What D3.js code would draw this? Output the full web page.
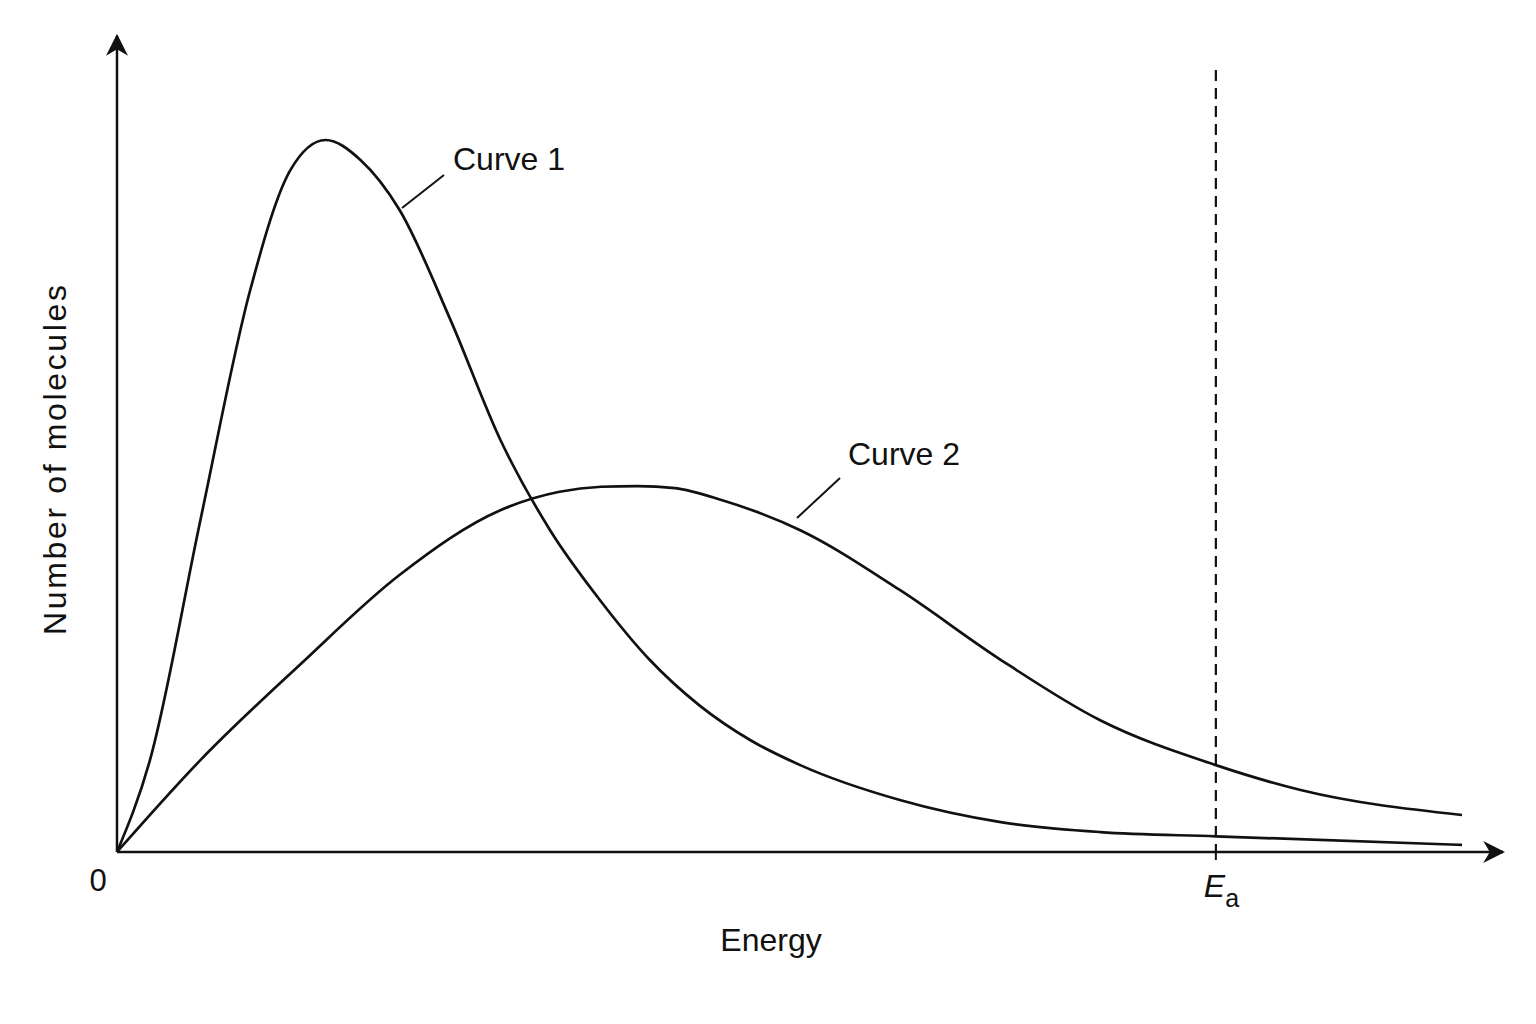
<!DOCTYPE html>
<html><head><meta charset="utf-8">
<script src="https://cdn.jsdelivr.net/npm/d3@7"></script>
<style>body{margin:0;background:#fff}text{font-family:"Liberation Sans",Arial,sans-serif;fill:#111}</style>
</head><body><svg id="chart" width="1536" height="1024"></svg>
<script>
// energy (0-100) vs number of molecules (0-100, curve 1 peak = 100)
let curve1X = [0, 2.45, 6.2, 9.9, 12.9, 15.5, 18.1, 21, 24.8, 28.5, 32.2, 35.9, 39.6, 43.3, 47.1, 50.8, 58.2, 65.7, 73.1, 81.7, 100];
let curve1Y = [0, 12.9, 46.6, 78.9, 95.8, 100, 97.2, 90.2, 74.7, 57.9, 45.2, 35.4, 27, 20.6, 15.7, 12.2, 7.3, 4.2, 2.8, 2.2, 1];
let curve2X = [0, 6.2, 13.6, 21, 28.5, 32.9, 36, 38.7, 41.5, 45, 50.8, 58.2, 65.7, 73.1, 81.7, 88, 100];
let curve2Y = [0, 12.9, 26.3, 38.9, 48, 50.6, 51.3, 51.4, 51.1, 49.4, 45.2, 36.8, 27, 18.5, 12.2, 8.7, 5.2];
let ea = 81.7;

let svg = d3.select("#chart");
let x = d3.scaleLinear().domain([0, 100]).range([117, 1462]);
let y = d3.scaleLinear().domain([0, 100]).range([852, 140]);

svg.append("defs").append("marker").attr("id", "arr").attr("viewBox", "0 0 10 10").attr("refX", 9).attr("refY", 5)
  .attr("markerWidth", 22).attr("markerHeight", 22).attr("markerUnits", "userSpaceOnUse").attr("orient", "auto")
  .append("path").attr("d", "M0,0 L10,5 L0,10 L3,5 Z").attr("fill", "#111");

// axes
svg.append("line").attr("x1", x(0)).attr("y1", y(0)).attr("x2", 1503).attr("y2", y(0))
  .attr("stroke", "#111").attr("stroke-width", 2.5).attr("marker-end", "url(#arr)");
svg.append("line").attr("x1", x(0)).attr("y1", y(0)).attr("x2", x(0)).attr("y2", 36)
  .attr("stroke", "#111").attr("stroke-width", 2.5).attr("marker-end", "url(#arr)");

// Ea
svg.append("line").attr("x1", x(ea)).attr("x2", x(ea)).attr("y1", 70).attr("y2", y(0))
  .attr("stroke", "#111").attr("stroke-width", 2.2).attr("stroke-dasharray", "11,7");
svg.append("line").attr("x1", x(ea)).attr("x2", x(ea)).attr("y1", y(0)).attr("y2", y(0) + 8)
  .attr("stroke", "#111").attr("stroke-width", 2);

let line = d3.line().x(d => x(d[0])).y(d => y(d[1])).curve(d3.curveMonotoneX);
[[curve1X, curve1Y], [curve2X, curve2Y]].forEach(([xs, ys]) => {
  svg.append("path").attr("d", line(d3.zip(xs, ys))).attr("fill", "none")
    .attr("stroke", "#111").attr("stroke-width", 2.7);
});

// labels
svg.append("line").attr("x1", 402).attr("y1", 208).attr("x2", 444).attr("y2", 175).attr("stroke", "#111").attr("stroke-width", 2);
svg.append("text").attr("x", 453).attr("y", 170).attr("font-size", 32).text("Curve 1");
svg.append("line").attr("x1", 797).attr("y1", 518).attr("x2", 840).attr("y2", 478).attr("stroke", "#111").attr("stroke-width", 2);
svg.append("text").attr("x", 848).attr("y", 465).attr("font-size", 32).text("Curve 2");

svg.append("text").attr("x", 98).attr("y", 891).attr("text-anchor", "middle").attr("font-size", 31).text("0");
let eaT = svg.append("text").attr("x", x(ea) - 12).attr("y", 897).attr("font-size", 32);
eaT.append("tspan").attr("font-style", "italic").text("E");
eaT.append("tspan").attr("dy", 10).attr("font-size", 25).text("a");
svg.append("text").attr("x", 771).attr("y", 951).attr("text-anchor", "middle").attr("font-size", 32).text("Energy");
svg.append("text").attr("transform", "translate(66,460) rotate(-90)").attr("text-anchor", "middle")
  .attr("font-size", 32).attr("textLength", 350).text("Number of molecules");
</script></body></html>
